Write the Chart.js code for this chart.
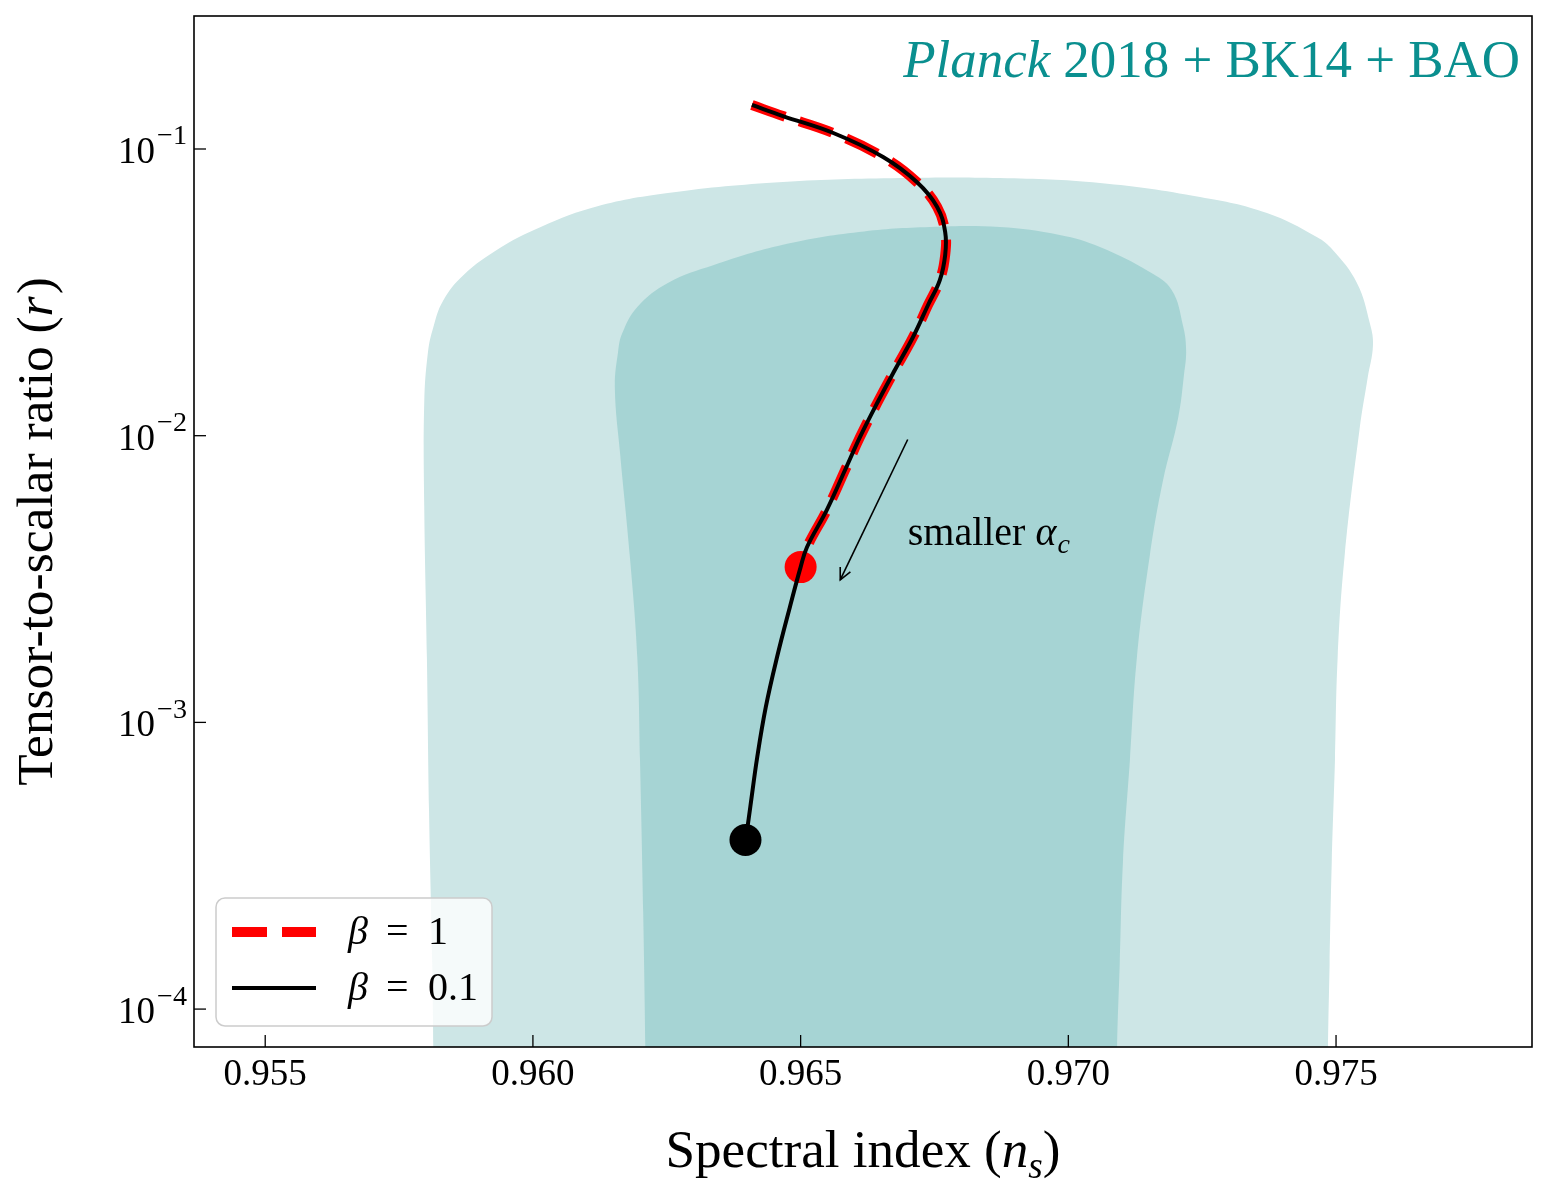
<!DOCTYPE html>
<html><head><meta charset="utf-8">
<script src="https://cdn.jsdelivr.net/npm/chart.js@4/dist/chart.umd.min.js"></script>
<style>html,body{margin:0;padding:0;background:#fff}canvas{display:block}</style>
</head><body>
<canvas id="c" width="1556" height="1188"></canvas>
<script>
// ---------------- data ----------------
const nsTicks = [0.955, 0.960, 0.965, 0.970, 0.975];
const nsTickLabels = ["0.955", "0.960", "0.965", "0.970", "0.975"];
const rTicks = [1e-4, 1e-3, 1e-2, 1e-1];
const rTickExps = ["\u22124", "\u22123", "\u22122", "\u22121"];

// axis limits
const NS_MIN = 0.95367, NS_MAX = 0.97866;
const R_MIN = 7.375e-5, R_MAX = 0.2910;

// 95% contour (Planck 2018 + BK14 + BAO)
const outerNs = [0.95814, 0.95814, 0.95812, 0.95806, 0.95802, 0.95797, 0.95797, 0.95804, 0.95814, 0.95832, 0.95870, 0.95939, 0.96002, 0.96109, 0.96252, 0.96467, 0.96686, 0.96872, 0.97059, 0.97246, 0.97371, 0.97464, 0.97494, 0.97539, 0.97563, 0.97569, 0.97559, 0.97544, 0.97516, 0.97503, 0.97498, 0.97492, 0.97488, 0.97485, 0.97485];
const outerR  = [4.8e-5, 7.2e-5, 1.44e-4, 4.9e-4, 1.68e-3, 5.7e-3, 0.0130, 0.0196, 0.0239, 0.0295, 0.0363, 0.0452, 0.0522, 0.0623, 0.0702, 0.0767, 0.0792, 0.0792, 0.0761, 0.0680, 0.0598, 0.0493, 0.0444, 0.0341, 0.0247, 0.0207, 0.0159, 0.01055, 3.8e-3, 1.68e-3, 7.4e-4, 3.26e-4, 1.44e-4, 7.2e-5, 4.8e-5];

// 68% contour
const innerNs = [0.96210, 0.96210, 0.96206, 0.96200, 0.96195, 0.96181, 0.96163, 0.96153, 0.96159, 0.96167, 0.96195, 0.96252, 0.96338, 0.96467, 0.96609, 0.96742, 0.96872, 0.96984, 0.97059, 0.97152, 0.97193, 0.97214, 0.97220, 0.97216, 0.97205, 0.97177, 0.97152, 0.97128, 0.97115, 0.97102, 0.97096, 0.97091, 0.97091];
const innerR  = [4.8e-5, 7.2e-5, 2.16e-4, 7.4e-4, 1.68e-3, 3.8e-3, 8.6e-3, 0.0147, 0.0196, 0.0228, 0.0281, 0.0341, 0.0394, 0.0463, 0.0513, 0.0534, 0.0534, 0.0501, 0.0455, 0.0372, 0.0322, 0.0243, 0.0199, 0.0163, 0.0115, 7.0e-3, 3.8e-3, 1.68e-3, 7.4e-4, 3.26e-4, 1.44e-4, 7.2e-5, 4.8e-5];

// beta = 0.1 trajectory
const beta01Ns = [0.96409, 0.96467, 0.96561, 0.96654, 0.96717, 0.96755, 0.96770, 0.96770, 0.96760, 0.96738, 0.96710, 0.96676, 0.96643, 0.96611, 0.96583, 0.96549, 0.96512, 0.96500, 0.96480, 0.96456, 0.96435, 0.96419, 0.96406, 0.96400, 0.96397];
const beta01R  = [0.1424, 0.1303, 0.1137, 0.0938, 0.0767, 0.0628, 0.0513, 0.0427, 0.0349, 0.02857, 0.02209, 0.01695, 0.0130, 0.00990, 0.00759, 0.00551, 0.00409, 0.00348, 0.002527, 0.00169, 0.001132, 0.000757, 0.000507, 0.000421, 0.000389];

// beta = 1 trajectory
const beta1Ns = [0.96409, 0.96467, 0.96561, 0.96654, 0.96717, 0.96755, 0.96770, 0.96770, 0.96760, 0.96738, 0.96710, 0.96676, 0.96643, 0.96611, 0.96583, 0.96549, 0.96512, 0.96500];
const beta1R  = [0.1424, 0.1303, 0.1137, 0.0938, 0.0767, 0.0628, 0.0513, 0.0427, 0.0349, 0.02857, 0.02209, 0.01695, 0.0130, 0.00990, 0.00759, 0.00551, 0.00409, 0.00348];

// end points
const beta1EndNs = [0.96500], beta1EndR = [0.00348];
const beta01EndNs = [0.96397], beta01EndR = [0.000389];

// annotation "smaller alpha_c" arrow (data coords)
const arrowNs = [0.96700, 0.96574];
const arrowR = [0.0097, 0.00314];
const noteNs = 0.96700, noteR = 0.00416;

const titleSegs = [{t: "Planck", it: true}, {t: " 2018 + BK14 + BAO"}];
const legendLabels = [["\u03b2", "=", "1"], ["\u03b2", "=", "0.1"]];

// ---------------- helpers ----------------
const toPts = (xs, ys) => xs.map((x, i) => ({x: x, y: ys[i]}));
const SERIF = '"Liberation Serif", "DejaVu Serif", serif';
const fontOf = (size, it) => (it ? 'italic ' : '') + size + 'px ' + SERIF;

function segWidth(ctx, segs, size) {
  let w = 0;
  for (const s of segs) {
    const sz = size * (s.scale || 1);
    ctx.font = fontOf(sz, s.it);
    w += ctx.measureText(s.t).width + (s.gap || 0);
  }
  return w;
}
function drawSegs(ctx, segs, size, x, y, align) {
  const w = segWidth(ctx, segs, size);
  let cx = align === 'center' ? x - w / 2 : (align === 'right' ? x - w : x);
  ctx.textAlign = 'left';
  ctx.textBaseline = 'alphabetic';
  for (const s of segs) {
    const sz = size * (s.scale || 1);
    ctx.font = fontOf(sz, s.it);
    ctx.fillText(s.t, cx, y + (s.dy || 0) * size);
    cx += ctx.measureText(s.t).width + (s.gap || 0);
  }
}
function fitSize(ctx, segs, target, base) {
  return base * target / segWidth(ctx, segs, base);
}

const decor = {
  id: 'decor',
  afterDatasetsDraw(chart) {
    const ctx = chart.ctx;
    const a = chart.chartArea;
    const xs = chart.scales.x, ys = chart.scales.y;
    ctx.save();

    // frame
    ctx.strokeStyle = '#000';
    ctx.lineWidth = 1.6;
    ctx.strokeRect(a.left, a.top, a.right - a.left, a.bottom - a.top);

    // ticks (inward)
    ctx.lineWidth = 1.3;
    ctx.fillStyle = '#000';
    nsTicks.forEach((v, i) => {
      const px = xs.getPixelForValue(v);
      ctx.beginPath(); ctx.moveTo(px, a.bottom); ctx.lineTo(px, a.bottom - 12); ctx.stroke();
      ctx.font = fontOf(37, false);
      ctx.textAlign = 'center'; ctx.textBaseline = 'alphabetic';
      ctx.fillText(nsTickLabels[i], px, a.bottom + 38);
    });
    rTicks.forEach((v, i) => {
      const py = ys.getPixelForValue(v);
      ctx.beginPath(); ctx.moveTo(a.left, py); ctx.lineTo(a.left + 12, py); ctx.stroke();
      drawSegs(ctx, [{t: "10", gap: 2}, {t: rTickExps[i], scale: 0.76, dy: -0.5}], 37, a.left - 7, py + 14, 'right');
    });

    // axis titles
    ctx.fillStyle = '#000';
    const xt = [{t: "Spectral index ("}, {t: "n", it: true}, {t: "s", it: true, scale: 0.7, dy: 0.2}, {t: ")"}];
    const xsz = fitSize(ctx, xt, 395, 44);
    drawSegs(ctx, xt, xsz, (a.left + a.right) / 2, a.bottom + 120, 'center');

    const yt = [{t: "Tensor-to-scalar ratio ("}, {t: "r", it: true, gap: 2}, {t: ")"}];
    const ysz = fitSize(ctx, yt, 509, 44);
    ctx.save();
    ctx.translate(a.left - 142, (a.top + a.bottom) / 2);
    ctx.rotate(-Math.PI / 2);
    drawSegs(ctx, yt, ysz, 0, 0, 'center');
    ctx.restore();

    // title
    ctx.fillStyle = '#0a8f8f';
    const tsz = fitSize(ctx, titleSegs, 617, 48);
    drawSegs(ctx, titleSegs, tsz, a.right - 12, a.top + 61, 'right');

    // arrow
    const x0 = xs.getPixelForValue(arrowNs[0]), y0 = ys.getPixelForValue(arrowR[0]);
    const x1 = xs.getPixelForValue(arrowNs[1]), y1 = ys.getPixelForValue(arrowR[1]);
    ctx.strokeStyle = '#000';
    ctx.lineWidth = 1.6;
    ctx.beginPath(); ctx.moveTo(x0, y0); ctx.lineTo(x1, y1); ctx.stroke();
    const ang = Math.atan2(y1 - y0, x1 - x0);
    const hl = 13, hw = 0.45;
    ctx.beginPath();
    ctx.moveTo(x1 - hl * Math.cos(ang - hw), y1 - hl * Math.sin(ang - hw));
    ctx.lineTo(x1, y1);
    ctx.lineTo(x1 - hl * Math.cos(ang + hw), y1 - hl * Math.sin(ang + hw));
    ctx.stroke();

    // note text
    ctx.fillStyle = '#000';
    drawSegs(ctx, [{t: "smaller "}, {t: "\u03b1", it: true, gap: 1}, {t: "c", it: true, scale: 0.7, dy: 0.2}],
      40, xs.getPixelForValue(noteNs), ys.getPixelForValue(noteR), 'left');

    // legend
    const lx = a.left + 22, ly = a.bottom - 149, lw = 276, lh = 128;
    ctx.beginPath();
    ctx.roundRect(lx, ly, lw, lh, 9);
    ctx.fillStyle = 'rgba(255,255,255,0.8)';
    ctx.fill();
    ctx.strokeStyle = '#cccccc';
    ctx.lineWidth = 1.5;
    ctx.stroke();
    const ds = chart.data.datasets;
    const rows = [ds[2], ds[4]];
    rows.forEach((d, i) => {
      const yy = ly + 34 + i * 56;
      ctx.save();
      ctx.strokeStyle = d.borderColor;
      ctx.lineWidth = d.borderWidth;
      ctx.lineCap = 'butt';
      ctx.setLineDash(d.borderDash || []);
      ctx.beginPath(); ctx.moveTo(lx + 16, yy); ctx.lineTo(lx + 100, yy); ctx.stroke();
      ctx.restore();
      ctx.fillStyle = '#000';
      const tx = lx + 132, ty = yy + 12;
      const lab = legendLabels[i];
      ctx.textAlign = 'left'; ctx.textBaseline = 'alphabetic';
      ctx.font = fontOf(40, true); ctx.fillText(lab[0], tx, ty);
      ctx.font = fontOf(40, false); ctx.fillText(lab[1], tx + 38, ty);
      ctx.fillText(lab[2], tx + 80, ty);
    });

    ctx.restore();
  }
};

new Chart(document.getElementById('c'), {
  type: 'line',
  data: {
    datasets: [
      {label: '95%', data: toPts(outerNs, outerR), fill: 'shape', backgroundColor: '#cde6e6',
       borderWidth: 0, borderColor: 'rgba(0,0,0,0)', pointRadius: 0, tension: 0.4, order: 10},
      {label: '68%', data: toPts(innerNs, innerR), fill: 'shape', backgroundColor: '#a6d4d4',
       borderWidth: 0, borderColor: 'rgba(0,0,0,0)', pointRadius: 0, tension: 0.4, order: 9},
      {label: 'beta = 1', data: toPts(beta1Ns, beta1R), fill: false, borderColor: '#ff0000',
       borderWidth: 10, borderDash: [35, 15], borderCapStyle: 'butt', pointRadius: 0, tension: 0.4, order: 8},
      {label: 'beta = 1 end', data: toPts(beta1EndNs, beta1EndR), showLine: false, pointRadius: 16,
       pointBackgroundColor: '#ff0000', pointBorderWidth: 0, pointBorderColor: '#ff0000', order: 7},
      {label: 'beta = 0.1', data: toPts(beta01Ns, beta01R), fill: false, borderColor: '#000000',
       borderWidth: 4, pointRadius: 0, tension: 0.4, order: 6},
      {label: 'beta = 0.1 end', data: toPts(beta01EndNs, beta01EndR), showLine: false, pointRadius: 16,
       pointBackgroundColor: '#000000', pointBorderWidth: 0, pointBorderColor: '#000000', order: 5}
    ]
  },
  options: {
    responsive: false,
    animation: false,
    devicePixelRatio: 1,
    layout: {padding: {left: 194, right: 24, top: 16, bottom: 141}},
    plugins: {legend: {display: false}, tooltip: {enabled: false}},
    scales: {
      x: {type: 'linear', display: false, bounds: 'data', min: NS_MIN, max: NS_MAX},
      y: {type: 'logarithmic', display: false, bounds: 'data', min: R_MIN, max: R_MAX}
    }
  },
  plugins: [decor]
});
</script>
</body></html>
